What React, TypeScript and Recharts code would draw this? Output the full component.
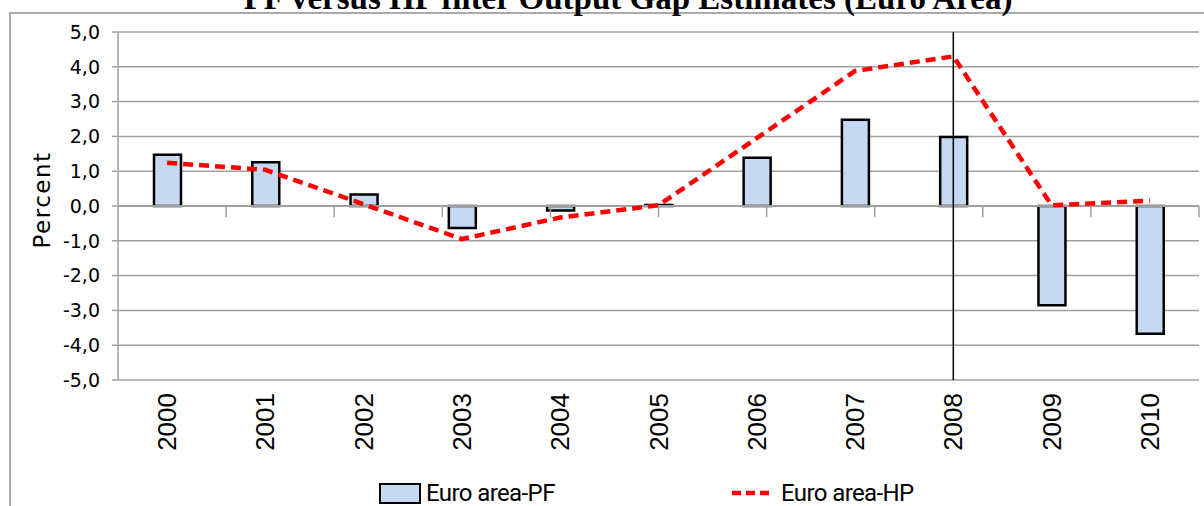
import React from 'react';
import {
  ComposedChart, Bar, Line, XAxis, YAxis, CartesianGrid, ReferenceLine, Legend,
} from 'recharts';

const categories = ['2000', '2001', '2002', '2003', '2004', '2005', '2006', '2007', '2008', '2009', '2010'];
const pfValues = [1.47, 1.26, 0.33, -0.63, -0.13, 0.03, 1.39, 2.48, 1.98, -2.85, -3.67];
const hpValues = [1.24, 1.04, 0.05, -0.95, -0.33, 0.02, 1.95, 3.88, 4.3, 0.02, 0.15];
const yTicks = [-5, -4, -3, -2, -1, 0, 1, 2, 3, 4, 5];
const markerYear = '2008';
const pfName = 'Euro area-PF';
const hpName = 'Euro area-HP';
const title = 'PF versus HP filter Output Gap Estimates (Euro Area)';

const data = categories.map((year, i) => ({ year, pf: pfValues[i], hp: hpValues[i] }));
const boundaries = categories.map((_, i) => i + 1);

const GRID = '#A0A0A0';

const XTick = (props: any) => {
  const { x, y, payload } = props;
  return (
    <text
      x={x}
      y={y}
      transform={`rotate(-90 ${x} ${y})`}
      textAnchor="end"
      dy={9}
      fontFamily="Liberation Sans, Arial, sans-serif"
      fontSize={26}
      fill="#000"
    >
      {payload.value}
    </text>
  );
};

const PercentLabel = (props: any) => {
  const { viewBox } = props;
  const cx = viewBox.x + 42;
  const cy = viewBox.y + viewBox.height / 2 - 6;
  return (
    <text
      x={cx}
      y={cy}
      transform={`rotate(-90 ${cx} ${cy})`}
      textAnchor="middle"
      dominantBaseline="central"
      fontFamily="DejaVu Sans, sans-serif"
      fontSize={23}
      letterSpacing={1.5}
      fill="#000"
    >
      Percent
    </text>
  );
};

const legendLeft: Record<string, number> = { [pfName]: 379, [hpName]: 731 };

const LegendContent = (props: any) => {
  const payload = props.payload || [];
  return (
    <div style={{ position: 'relative', width: 1204, height: 26, fontFamily: 'Roboto, Liberation Sans, sans-serif', fontSize: 24, letterSpacing: -0.6, color: '#000' }}>
      {payload.map((entry: any) => (
        <div key={entry.value} style={{ position: 'absolute', left: legendLeft[entry.value], top: 0, height: 26, display: 'flex', alignItems: 'center', whiteSpace: 'nowrap' }}>
          {entry.type === 'line' ? (
            <svg width={42} height={20} style={{ marginRight: 8 }}>
              <line x1={1} y1={10} x2={41} y2={10} stroke="#FF0000" strokeWidth={4.5} strokeDasharray="9 5" />
            </svg>
          ) : (
            <div style={{ width: 38, height: 17, background: '#C6D9F1', border: '2px solid #000', marginRight: 5 }} />
          )}
          <span style={{ lineHeight: '26px' }}>{entry.value}</span>
        </div>
      ))}
    </div>
  );
};

export default function App() {
  return (
    <div style={{ position: 'absolute', left: 0, top: 0, width: 1204, height: 506, background: '#fff', overflow: 'hidden' }}>
      <div style={{ position: 'absolute', left: 9, top: 12, width: 1200, height: 500, borderTop: '2px solid #AAAAAA', borderLeft: '2px solid #AAAAAA', boxSizing: 'border-box' }} />
      <svg width={1204} height={40} style={{ position: 'absolute', left: 0, top: 0 }}>
        <text x={628} y={9} textAnchor="middle" fontFamily="Liberation Serif, Times New Roman, serif" fontWeight="bold" fontSize={33} fill="#000">
          {title}
        </text>
      </svg>
      <div style={{ position: 'absolute', left: 0, top: 0 }}>
        <ComposedChart width={1204} height={506} data={data} margin={{ top: 32, right: 5, left: 0, bottom: 0 }}>
          <CartesianGrid vertical={false} stroke={GRID} strokeWidth={1.5} />
          <XAxis
            dataKey="year"
            interval={0}
            axisLine={false}
            tickLine={false}
            tickSize={0}
            tickMargin={13}
            height={100}
            tick={<XTick />}
          />
          <XAxis xAxisId="bounds" type="number" domain={[0, categories.length]} hide />
          <YAxis
            domain={[-5, 5]}
            ticks={yTicks}
            interval={0}
            width={118}
            tickFormatter={(v: number) => v.toFixed(1).replace('.', ',')}
            axisLine={{ stroke: GRID, strokeWidth: 1.5 }}
            tickLine={{ stroke: GRID, strokeWidth: 1.5 }}
            tickSize={6}
            tickMargin={12}
            tick={{ fontFamily: 'DejaVu Sans, sans-serif', fontSize: 19, fill: '#000' }}
            label={<PercentLabel />}
          />
          <Legend verticalAlign="bottom" content={<LegendContent />} />
          <Bar dataKey="pf" name={pfName} fill="#C6D9F1" stroke="#000" strokeWidth={2.5} barSize={27} isAnimationActive={false} />
          <ReferenceLine y={0} stroke={GRID} strokeWidth={2} />
          {boundaries.map((b) => (
            <ReferenceLine
              key={b}
              xAxisId="bounds"
              segment={[{ x: b, y: 0 }, { x: b, y: -0.32 }]}
              stroke={GRID}
              strokeWidth={1.5}
            />
          ))}
          <ReferenceLine x={markerYear} stroke="#000" strokeWidth={1.5} />
          <Line
            type="linear"
            dataKey="hp"
            name={hpName}
            stroke="#FF0000"
            strokeWidth={4.5}
            strokeDasharray="10 6"
            dot={false}
            legendType="line"
            isAnimationActive={false}
          />
        </ComposedChart>
      </div>
    </div>
  );
}
